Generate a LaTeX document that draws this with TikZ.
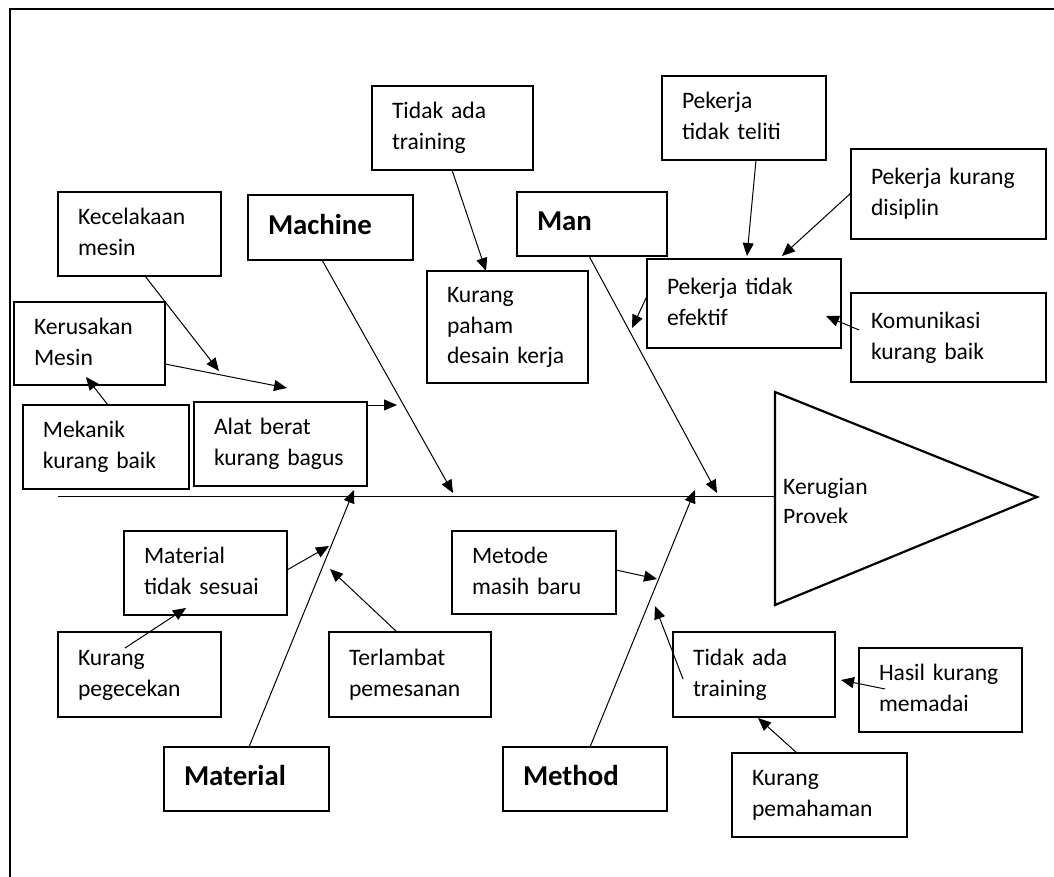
\documentclass[tikz,border=0pt]{standalone}
\usepackage{fontspec}
\setmainfont{Carlito}
\usetikzlibrary{arrows.meta}
\newcommand\bxt[1]{\hspace*{20pt}\begin{tabular}{@{}l@{}}#1\end{tabular}}
\begin{document}
\begin{tikzpicture}[x=1pt,y=-1pt,
  font=\fontsize{23.6}{30.8}\selectfont,
  box/.style 2 args={draw, line width=1.5pt, inner sep=0pt, outer sep=0pt,
    anchor=north west, text width=#1pt, minimum height=#2pt, align=left},
  head/.style={font=\fontsize{28.8}{34}\selectfont\bfseries},
  arr/.style={-{Triangle[length=13pt,width=11pt]}, line width=1pt},
  frame/.style={line width=2pt},
  tri/.style={line width=2.2pt, line join=miter}]
\useasboundingbox (0,0) rectangle (1054,877);
\draw[frame] (1054,9) -- (10,9) -- (10,877);

% ---- boxes (upper half)
\node[box={163}{84}] (kec) at (58,192) {\bxt{Kecelakaan\\mesin}};
\node[box={165}{65},head] (machine) at (248,195) {\bxt{Machine}};
\node[box={151}{83}] (kerus) at (14,302) {\bxt{Kerusakan\\Mesin}};
\node[box={166}{84}] (mek) at (23,405) {\bxt{Mekanik\\kurang baik}};
\node[box={173}{84}] (alat) at (194,402) {\bxt{Alat berat\\kurang bagus}};
\node[box={161}{84}] (tidak1) at (372,86) {\bxt{Tidak ada\\training}};
\node[box={161}{112}] (paham) at (427,271) {\bxt{Kurang\\paham\\desain kerja}};
\node[box={150}{64},head] (man) at (517,192) {\bxt{Man}};
\node[box={164}{84}] (teliti) at (662,76) {\bxt{Pekerja\\tidak teliti}};
\node[box={195}{90}] (disiplin) at (851,149) {\bxt{Pekerja kurang\\disiplin}};
\node[box={194}{89}] (efektif) at (647,259) {\bxt{Pekerja tidak\\efektif}};
\node[box={195}{89}] (komunikasi) at (851,293) {\bxt{Komunikasi\\kurang baik}};

% ---- boxes (lower half)
\node[box={163}{84}] (matsesuai) at (124,531) {\bxt{Material\\tidak sesuai}};
\node[box={163}{85}] (pegecekan) at (58,632) {\bxt{Kurang\\pegecekan}};
\node[box={162}{85}] (terlambat) at (329,632) {\bxt{Terlambat\\pemesanan}};
\node[box={165}{64},head] (material) at (164,747) {\bxt{Material}};
\node[box={164}{83}] (metode) at (452,531) {\bxt{Metode\\masih baru}};
\node[box={162}{85}] (tidak2) at (673,632) {\bxt{Tidak ada\\training}};
\node[box={163}{84}] (hasil) at (859,648) {\bxt{Hasil kurang\\memadai}};
\node[box={164}{64},head] (method) at (503,747) {\bxt{Method}};
\node[box={175}{84}] (pemahaman) at (732,753) {\bxt{Kurang\\pemahaman}};

% ---- spine and head triangle
\coordinate (spineL) at (58,496);
\coordinate (spineR) at (775,496);
\coordinate (triT) at (775,392);
\coordinate (triA) at (1037,497);
\coordinate (triB) at (775,605);
\draw[line width=1pt] (spineL) -- (spineR);
\draw[tri] (triT) -- (triA) -- (triB) -- cycle;
\begin{scope}
  \clip (777,380) rectangle (1030,522);
  \node[anchor=base west, inner sep=0pt] (kerugian) at (783,494)
    {\begin{tabular}[t]{@{}l@{}}Kerugian\\Provek\end{tabular}};
\end{scope}

% ---- arrow tips on bones
\coordinate (t1) at (219,371);
\coordinate (t2) at (287,388);
\coordinate (t3) at (86,377);
\coordinate (t4) at (397,405);
\coordinate (t5) at (453,493);
\coordinate (t7) at (717,493);
\coordinate (t10) at (632,328);
\coordinate (t12) at (354,490);
\coordinate (t13) at (329,546);
\coordinate (t15) at (330,569);
\coordinate (t16) at (695,490);
\coordinate (t17) at (657,579);
\coordinate (t18) at (655,606);

% ---- connectors
\draw[arr] ([xshift=87pt]kec.south west) -- (t1);
\draw[arr] ([yshift=-62pt]kerus.north east) -- (t2);
\draw[arr] ([xshift=85pt]mek.north west) -- (t3);
\draw[arr] ([yshift=-3pt]alat.north east) -- (t4);
\draw[arr] ([xshift=74pt]machine.south west) -- (t5);
\draw[arr] ([xshift=80pt]tidak1.south west) -- ([xshift=59pt]paham.north west);
\draw[arr] ([xshift=72pt]man.south west) -- (t7);
\draw[arr] ([xshift=94pt]teliti.south west) -- ([xshift=100pt,yshift=3pt]efektif.north west);
\draw[arr] ([yshift=-44pt]disiplin.north west) -- ([xshift=135pt,yshift=3pt]efektif.north west);
\draw[arr] ([yshift=-37pt]efektif.north west) -- (t10);
\draw[arr] ([xshift=8pt,yshift=-37pt]komunikasi.north west) -- ([xshift=-15pt,yshift=-57pt]efektif.north east);

\draw[arr] ([xshift=85pt]material.north west) -- (t12);
\draw[arr] ([yshift=-39pt]matsesuai.north east) -- (t13);
\draw[arr] ([xshift=67pt,yshift=-16pt]pegecekan.north west) -- ([xshift=62pt,yshift=7pt]matsesuai.south west);
\draw[arr] ([xshift=68pt]terlambat.north west) -- (t15);
\draw[arr] ([xshift=87pt]method.north west) -- (t16);
\draw[arr] ([yshift=-39pt]metode.north east) -- (t17);
\draw[arr] ([xshift=10pt,yshift=-47pt]tidak2.north west) -- (t18);
\draw[arr] ([xshift=26pt,yshift=-41pt]hasil.north west) -- ([xshift=6pt,yshift=-48pt]tidak2.north east);
\draw[arr] ([xshift=65pt]pemahaman.north west) -- ([xshift=85pt,yshift=-1pt]tidak2.south west);
\end{tikzpicture}
\end{document}
